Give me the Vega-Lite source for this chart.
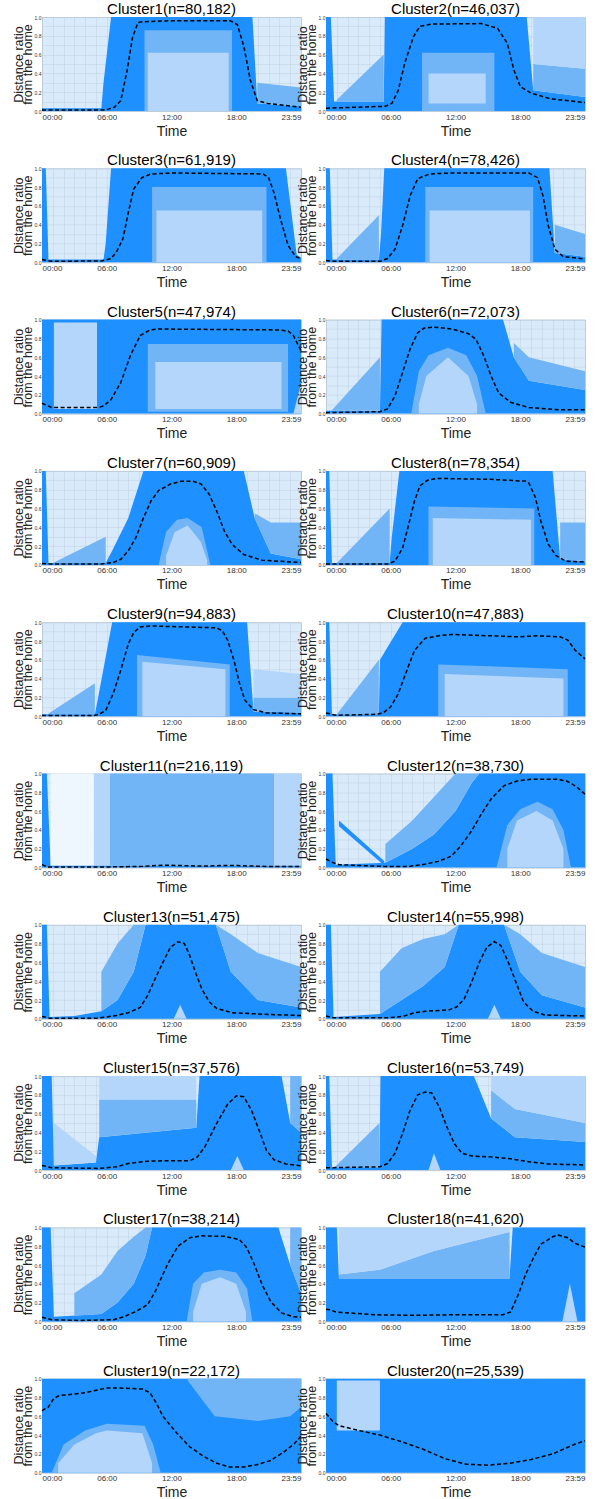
{
"$schema":"https://vega.github.io/schema/vega-lite/v6.json",
"padding":{"left":11,"top":1,"right":4,"bottom":0},
"data":{"values":[
{"p":1,"k":"L","t":0,"lo":0.01},{"p":1,"k":"L","t":5.9,"lo":0.01},{"p":1,"k":"L","t":6.7,"lo":0.04},{"p":1,"k":"L","t":7.3,"lo":0.11},{"p":1,"k":"L","t":7.9,"lo":0.44},{"p":1,"k":"L","t":8.4,"lo":0.79},{"p":1,"k":"L","t":8.9,"lo":0.94},{"p":1,"k":"L","t":9.35,"lo":0.95},{"p":1,"k":"L","t":12,"lo":0.96},{"p":1,"k":"L","t":17.45,"lo":0.96},{"p":1,"k":"L","t":18.1,"lo":0.92},{"p":1,"k":"L","t":18.7,"lo":0.69},{"p":1,"k":"L","t":19.3,"lo":0.33},{"p":1,"k":"L","t":19.95,"lo":0.11},{"p":1,"k":"L","t":20.9,"lo":0.08},{"p":1,"k":"L","t":24,"lo":0.04},
{"p":1,"k":"d","g":1,"t":0,"lo":0,"hi":0.03},{"p":1,"k":"d","g":1,"t":5.5,"lo":0,"hi":0.03},{"p":1,"k":"d","g":1,"t":5.7,"lo":0,"hi":0.3},{"p":1,"k":"d","g":1,"t":6.4,"lo":0,"hi":1},{"p":1,"k":"d","g":1,"t":19.5,"lo":0,"hi":1},{"p":1,"k":"d","g":1,"t":19.95,"lo":0,"hi":0.08},{"p":1,"k":"d","g":1,"t":24,"lo":0,"hi":0.05},
{"p":1,"k":"m","g":2,"t":9.5,"lo":0,"hi":0.86},{"p":1,"k":"m","g":2,"t":17.6,"lo":0,"hi":0.86},
{"p":1,"k":"s","g":3,"t":9.8,"lo":0,"hi":0.62},{"p":1,"k":"s","g":3,"t":17.3,"lo":0,"hi":0.62},
{"p":1,"k":"m","g":4,"t":19.95,"lo":0.08,"hi":0.3},{"p":1,"k":"m","g":4,"t":24,"lo":0.05,"hi":0.25},

{"p":2,"k":"L","t":0,"lo":0.03},{"p":2,"k":"L","t":5.5,"lo":0.05},{"p":2,"k":"L","t":6.1,"lo":0.08},{"p":2,"k":"L","t":6.7,"lo":0.22},{"p":2,"k":"L","t":7.3,"lo":0.51},{"p":2,"k":"L","t":8.1,"lo":0.79},{"p":2,"k":"L","t":8.7,"lo":0.9},{"p":2,"k":"L","t":9.8,"lo":0.925},{"p":2,"k":"L","t":14.4,"lo":0.93},{"p":2,"k":"L","t":15.9,"lo":0.88},{"p":2,"k":"L","t":16.8,"lo":0.72},{"p":2,"k":"L","t":17.4,"lo":0.44},{"p":2,"k":"L","t":18,"lo":0.26},{"p":2,"k":"L","t":19,"lo":0.19},{"p":2,"k":"L","t":20.8,"lo":0.13},{"p":2,"k":"L","t":24,"lo":0.09},
{"p":2,"k":"d","g":1,"t":0,"lo":0,"hi":1},{"p":2,"k":"d","g":1,"t":0.45,"lo":0,"hi":1},{"p":2,"k":"d","g":1,"t":0.75,"lo":0,"hi":0.1},{"p":2,"k":"d","g":1,"t":5.35,"lo":0,"hi":0.1},{"p":2,"k":"d","g":1,"t":5.45,"lo":0,"hi":1},{"p":2,"k":"d","g":1,"t":18.6,"lo":0,"hi":1},{"p":2,"k":"d","g":1,"t":19.2,"lo":0,"hi":0.22},{"p":2,"k":"d","g":1,"t":24,"lo":0,"hi":0.15},
{"p":2,"k":"m","g":2,"t":8.9,"lo":0,"hi":0.62},{"p":2,"k":"m","g":2,"t":15.6,"lo":0,"hi":0.62},
{"p":2,"k":"s","g":3,"t":9.5,"lo":0.08,"hi":0.4},{"p":2,"k":"s","g":3,"t":14.8,"lo":0.08,"hi":0.4},
{"p":2,"k":"m","g":4,"t":19.2,"lo":0.22,"hi":0.5},{"p":2,"k":"m","g":4,"t":24,"lo":0.15,"hi":0.45},
{"p":2,"k":"s","g":5,"t":19.2,"lo":0.5,"hi":1},{"p":2,"k":"s","g":5,"t":24,"lo":0.45,"hi":1},
{"p":2,"k":"m","g":6,"t":1,"lo":0.1,"hi":0.12},{"p":2,"k":"m","g":6,"t":5.35,"lo":0.1,"hi":0.6},

{"p":3,"k":"L","t":0,"lo":0.03},{"p":3,"k":"L","t":0.9,"lo":0.01},{"p":3,"k":"L","t":5.5,"lo":0.015},{"p":3,"k":"L","t":6.4,"lo":0.04},{"p":3,"k":"L","t":6.9,"lo":0.11},{"p":3,"k":"L","t":7.5,"lo":0.25},{"p":3,"k":"L","t":8,"lo":0.53},{"p":3,"k":"L","t":8.5,"lo":0.78},{"p":3,"k":"L","t":9.25,"lo":0.9},{"p":3,"k":"L","t":10.1,"lo":0.94},{"p":3,"k":"L","t":12.3,"lo":0.95},{"p":3,"k":"L","t":20.5,"lo":0.94},{"p":3,"k":"L","t":21,"lo":0.9},{"p":3,"k":"L","t":21.5,"lo":0.74},{"p":3,"k":"L","t":22.1,"lo":0.46},{"p":3,"k":"L","t":22.8,"lo":0.18},{"p":3,"k":"L","t":23.5,"lo":0.06},{"p":3,"k":"L","t":24,"lo":0.04},
{"p":3,"k":"d","g":1,"t":0,"lo":0,"hi":1},{"p":3,"k":"d","g":1,"t":0.35,"lo":0,"hi":1},{"p":3,"k":"d","g":1,"t":0.6,"lo":0,"hi":0.03},{"p":3,"k":"d","g":1,"t":5.7,"lo":0,"hi":0.03},{"p":3,"k":"d","g":1,"t":5.9,"lo":0,"hi":0.2},{"p":3,"k":"d","g":1,"t":6.4,"lo":0,"hi":1},{"p":3,"k":"d","g":1,"t":22.6,"lo":0,"hi":1},{"p":3,"k":"d","g":1,"t":23.6,"lo":0,"hi":0.08},{"p":3,"k":"d","g":1,"t":24,"lo":0,"hi":0.05},
{"p":3,"k":"m","g":2,"t":10.2,"lo":0,"hi":0.8},{"p":3,"k":"m","g":2,"t":20.8,"lo":0,"hi":0.8},
{"p":3,"k":"s","g":3,"t":10.6,"lo":0,"hi":0.55},{"p":3,"k":"s","g":3,"t":20.4,"lo":0,"hi":0.55},

{"p":4,"k":"L","t":0,"lo":0.02},{"p":4,"k":"L","t":0.5,"lo":0.01},{"p":4,"k":"L","t":5,"lo":0.01},{"p":4,"k":"L","t":5.7,"lo":0.04},{"p":4,"k":"L","t":6.4,"lo":0.14},{"p":4,"k":"L","t":7.1,"lo":0.39},{"p":4,"k":"L","t":7.8,"lo":0.71},{"p":4,"k":"L","t":8.5,"lo":0.89},{"p":4,"k":"L","t":9.6,"lo":0.94},{"p":4,"k":"L","t":11.7,"lo":0.95},{"p":4,"k":"L","t":18.8,"lo":0.95},{"p":4,"k":"L","t":19.6,"lo":0.9},{"p":4,"k":"L","t":20.1,"lo":0.71},{"p":4,"k":"L","t":20.6,"lo":0.39},{"p":4,"k":"L","t":21.2,"lo":0.14},{"p":4,"k":"L","t":22,"lo":0.06},{"p":4,"k":"L","t":24,"lo":0.035},
{"p":4,"k":"d","g":1,"t":0,"lo":0,"hi":1},{"p":4,"k":"d","g":1,"t":0.35,"lo":0,"hi":1},{"p":4,"k":"d","g":1,"t":0.6,"lo":0,"hi":0.03},{"p":4,"k":"d","g":1,"t":4.9,"lo":0,"hi":0.03},{"p":4,"k":"d","g":1,"t":5.1,"lo":0,"hi":0.3},{"p":4,"k":"d","g":1,"t":5.4,"lo":0,"hi":1},{"p":4,"k":"d","g":1,"t":20.7,"lo":0,"hi":1},{"p":4,"k":"d","g":1,"t":21.2,"lo":0,"hi":0.1},{"p":4,"k":"d","g":1,"t":24,"lo":0,"hi":0.06},
{"p":4,"k":"m","g":2,"t":9.2,"lo":0,"hi":0.8},{"p":4,"k":"m","g":2,"t":19.2,"lo":0,"hi":0.8},
{"p":4,"k":"s","g":3,"t":9.6,"lo":0,"hi":0.55},{"p":4,"k":"s","g":3,"t":18.9,"lo":0,"hi":0.55},
{"p":4,"k":"m","g":4,"t":21.2,"lo":0.1,"hi":0.4},{"p":4,"k":"m","g":4,"t":24,"lo":0.06,"hi":0.3},
{"p":4,"k":"m","g":5,"t":1,"lo":0.03,"hi":0.04},{"p":4,"k":"m","g":5,"t":4.9,"lo":0.03,"hi":0.5},

{"p":5,"k":"L","t":0,"lo":0.11},{"p":5,"k":"L","t":0.9,"lo":0.065},{"p":5,"k":"L","t":5.2,"lo":0.065},{"p":5,"k":"L","t":5.7,"lo":0.08},{"p":5,"k":"L","t":6.4,"lo":0.15},{"p":5,"k":"L","t":7.3,"lo":0.33},{"p":5,"k":"L","t":8.2,"lo":0.62},{"p":5,"k":"L","t":9.1,"lo":0.83},{"p":5,"k":"L","t":10,"lo":0.89},{"p":5,"k":"L","t":10.8,"lo":0.9},{"p":5,"k":"L","t":21.9,"lo":0.89},{"p":5,"k":"L","t":22.8,"lo":0.88},{"p":5,"k":"L","t":23.3,"lo":0.83},{"p":5,"k":"L","t":24,"lo":0.67},
{"p":5,"k":"d","g":1,"t":0,"lo":0,"hi":1},{"p":5,"k":"d","g":1,"t":24,"lo":0,"hi":1},
{"p":5,"k":"s","g":2,"t":1.1,"lo":0.05,"hi":0.97},{"p":5,"k":"s","g":2,"t":5.1,"lo":0.05,"hi":0.97},
{"p":5,"k":"m","g":3,"t":9.8,"lo":0.02,"hi":0.74},{"p":5,"k":"m","g":3,"t":22.8,"lo":0.02,"hi":0.74},
{"p":5,"k":"s","g":4,"t":10.5,"lo":0.05,"hi":0.55},{"p":5,"k":"s","g":4,"t":22.2,"lo":0.05,"hi":0.55},
{"p":5,"k":"s","g":5,"t":23.3,"lo":0,"hi":0},{"p":5,"k":"s","g":5,"t":24,"lo":0,"hi":0.32},

{"p":6,"k":"L","t":0,"lo":0.01},{"p":6,"k":"L","t":5,"lo":0.02},{"p":6,"k":"L","t":5.7,"lo":0.05},{"p":6,"k":"L","t":6.4,"lo":0.19},{"p":6,"k":"L","t":7.1,"lo":0.44},{"p":6,"k":"L","t":7.8,"lo":0.69},{"p":6,"k":"L","t":8.5,"lo":0.86},{"p":6,"k":"L","t":9.1,"lo":0.91},{"p":6,"k":"L","t":10,"lo":0.92},{"p":6,"k":"L","t":11.7,"lo":0.9},{"p":6,"k":"L","t":13.2,"lo":0.85},{"p":6,"k":"L","t":13.9,"lo":0.79},{"p":6,"k":"L","t":14.6,"lo":0.62},{"p":6,"k":"L","t":15.3,"lo":0.4},{"p":6,"k":"L","t":16,"lo":0.22},{"p":6,"k":"L","t":17.1,"lo":0.12},{"p":6,"k":"L","t":18.8,"lo":0.065},{"p":6,"k":"L","t":21.7,"lo":0.04},{"p":6,"k":"L","t":24,"lo":0.04},
{"p":6,"k":"d","g":1,"t":0,"lo":0,"hi":0.03},{"p":6,"k":"d","g":1,"t":5,"lo":0,"hi":0.03},{"p":6,"k":"d","g":1,"t":5.15,"lo":0,"hi":1},{"p":6,"k":"d","g":1,"t":16.4,"lo":0,"hi":1},{"p":6,"k":"d","g":1,"t":17.4,"lo":0,"hi":0.6},{"p":6,"k":"d","g":1,"t":18.8,"lo":0,"hi":0.35},{"p":6,"k":"d","g":1,"t":24,"lo":0,"hi":0.25},
{"p":6,"k":"m","g":2,"t":17.4,"lo":0.6,"hi":0.75},{"p":6,"k":"m","g":2,"t":18.8,"lo":0.35,"hi":0.6},{"p":6,"k":"m","g":2,"t":24,"lo":0.25,"hi":0.45},
{"p":6,"k":"m","g":3,"t":7.9,"lo":0,"hi":0},{"p":6,"k":"m","g":3,"t":8.6,"lo":0,"hi":0.45},{"p":6,"k":"m","g":3,"t":9.5,"lo":0,"hi":0.62},{"p":6,"k":"m","g":3,"t":11.3,"lo":0,"hi":0.7},{"p":6,"k":"m","g":3,"t":13,"lo":0,"hi":0.62},{"p":6,"k":"m","g":3,"t":14,"lo":0,"hi":0.4},{"p":6,"k":"m","g":3,"t":14.8,"lo":0,"hi":0},
{"p":6,"k":"s","g":4,"t":8.6,"lo":0,"hi":0.1},{"p":6,"k":"s","g":4,"t":9.3,"lo":0,"hi":0.4},{"p":6,"k":"s","g":4,"t":11.3,"lo":0,"hi":0.6},{"p":6,"k":"s","g":4,"t":13.2,"lo":0,"hi":0.4},{"p":6,"k":"s","g":4,"t":14,"lo":0,"hi":0.1},
{"p":6,"k":"m","g":5,"t":0.5,"lo":0.03,"hi":0.03},{"p":6,"k":"m","g":5,"t":5,"lo":0.03,"hi":0.6},

{"p":7,"k":"L","t":0,"lo":0.015},{"p":7,"k":"L","t":0.9,"lo":0.01},{"p":7,"k":"L","t":5.5,"lo":0.01},{"p":7,"k":"L","t":6.6,"lo":0.025},{"p":7,"k":"L","t":7.3,"lo":0.06},{"p":7,"k":"L","t":8,"lo":0.15},{"p":7,"k":"L","t":8.7,"lo":0.29},{"p":7,"k":"L","t":9.4,"lo":0.5},{"p":7,"k":"L","t":10.1,"lo":0.68},{"p":7,"k":"L","t":10.8,"lo":0.79},{"p":7,"k":"L","t":11.9,"lo":0.86},{"p":7,"k":"L","t":12.9,"lo":0.89},{"p":7,"k":"L","t":14,"lo":0.89},{"p":7,"k":"L","t":14.75,"lo":0.86},{"p":7,"k":"L","t":15.5,"lo":0.75},{"p":7,"k":"L","t":16.2,"lo":0.57},{"p":7,"k":"L","t":16.9,"lo":0.36},{"p":7,"k":"L","t":17.6,"lo":0.22},{"p":7,"k":"L","t":18.7,"lo":0.11},{"p":7,"k":"L","t":20.4,"lo":0.05},{"p":7,"k":"L","t":24,"lo":0.025},
{"p":7,"k":"d","g":1,"t":0,"lo":0,"hi":1},{"p":7,"k":"d","g":1,"t":0.35,"lo":0,"hi":1},{"p":7,"k":"d","g":1,"t":0.6,"lo":0,"hi":0.02},{"p":7,"k":"d","g":1,"t":5.9,"lo":0,"hi":0.02},{"p":7,"k":"d","g":1,"t":6.5,"lo":0,"hi":0.15},{"p":7,"k":"d","g":1,"t":8,"lo":0,"hi":0.5},{"p":7,"k":"d","g":1,"t":9.4,"lo":0,"hi":1},{"p":7,"k":"d","g":1,"t":18.7,"lo":0,"hi":1},{"p":7,"k":"d","g":1,"t":19.7,"lo":0,"hi":0.5},{"p":7,"k":"d","g":1,"t":21.2,"lo":0,"hi":0.12},{"p":7,"k":"d","g":1,"t":24,"lo":0,"hi":0.06},
{"p":7,"k":"m","g":2,"t":10.8,"lo":0,"hi":0},{"p":7,"k":"m","g":2,"t":11.5,"lo":0,"hi":0.35},{"p":7,"k":"m","g":2,"t":12.5,"lo":0,"hi":0.48},{"p":7,"k":"m","g":2,"t":13.5,"lo":0,"hi":0.5},{"p":7,"k":"m","g":2,"t":14.8,"lo":0,"hi":0.4},{"p":7,"k":"m","g":2,"t":15.6,"lo":0,"hi":0},
{"p":7,"k":"s","g":3,"t":11.5,"lo":0,"hi":0.1},{"p":7,"k":"s","g":3,"t":12.3,"lo":0,"hi":0.35},{"p":7,"k":"s","g":3,"t":13.5,"lo":0,"hi":0.42},{"p":7,"k":"s","g":3,"t":14.7,"lo":0,"hi":0.25},{"p":7,"k":"s","g":3,"t":15.3,"lo":0,"hi":0.05},
{"p":7,"k":"m","g":4,"t":19.7,"lo":0.5,"hi":0.55},{"p":7,"k":"m","g":4,"t":21.2,"lo":0.12,"hi":0.45},{"p":7,"k":"m","g":4,"t":24,"lo":0.06,"hi":0.45},
{"p":7,"k":"m","g":5,"t":1,"lo":0.02,"hi":0.02},{"p":7,"k":"m","g":5,"t":5.9,"lo":0.02,"hi":0.3},

{"p":8,"k":"L","t":0,"lo":0.01},{"p":8,"k":"L","t":5.7,"lo":0.01},{"p":8,"k":"L","t":6.4,"lo":0.04},{"p":8,"k":"L","t":7.1,"lo":0.18},{"p":8,"k":"L","t":7.6,"lo":0.4},{"p":8,"k":"L","t":8.2,"lo":0.68},{"p":8,"k":"L","t":8.7,"lo":0.84},{"p":8,"k":"L","t":9.4,"lo":0.9},{"p":8,"k":"L","t":10.3,"lo":0.92},{"p":8,"k":"L","t":15.3,"lo":0.91},{"p":8,"k":"L","t":18.5,"lo":0.89},{"p":8,"k":"L","t":18.8,"lo":0.87},{"p":8,"k":"L","t":19.4,"lo":0.72},{"p":8,"k":"L","t":19.9,"lo":0.47},{"p":8,"k":"L","t":20.6,"lo":0.22},{"p":8,"k":"L","t":21.3,"lo":0.1},{"p":8,"k":"L","t":22.2,"lo":0.04},{"p":8,"k":"L","t":24,"lo":0.03},
{"p":8,"k":"d","g":1,"t":0,"lo":0,"hi":1},{"p":8,"k":"d","g":1,"t":0.3,"lo":0,"hi":1},{"p":8,"k":"d","g":1,"t":0.55,"lo":0,"hi":0.02},{"p":8,"k":"d","g":1,"t":5.9,"lo":0,"hi":0.02},{"p":8,"k":"d","g":1,"t":6.1,"lo":0,"hi":0.3},{"p":8,"k":"d","g":1,"t":6.8,"lo":0,"hi":1},{"p":8,"k":"d","g":1,"t":21,"lo":0,"hi":1},{"p":8,"k":"d","g":1,"t":21.7,"lo":0,"hi":0.06},{"p":8,"k":"d","g":1,"t":24,"lo":0,"hi":0.04},
{"p":8,"k":"m","g":2,"t":9.5,"lo":0,"hi":0.62},{"p":8,"k":"m","g":2,"t":19.3,"lo":0,"hi":0.6},
{"p":8,"k":"s","g":3,"t":9.9,"lo":0,"hi":0.5},{"p":8,"k":"s","g":3,"t":19,"lo":0,"hi":0.48},
{"p":8,"k":"m","g":4,"t":21.7,"lo":0.06,"hi":0.45},{"p":8,"k":"m","g":4,"t":24,"lo":0.04,"hi":0.45},
{"p":8,"k":"m","g":5,"t":1,"lo":0.02,"hi":0.02},{"p":8,"k":"m","g":5,"t":5.9,"lo":0.02,"hi":0.6},

{"p":9,"k":"L","t":0,"lo":0.007},{"p":9,"k":"L","t":4.8,"lo":0.007},{"p":9,"k":"L","t":5.3,"lo":0.02},{"p":9,"k":"L","t":5.9,"lo":0.06},{"p":9,"k":"L","t":6.6,"lo":0.24},{"p":9,"k":"L","t":7.3,"lo":0.49},{"p":9,"k":"L","t":8,"lo":0.77},{"p":9,"k":"L","t":8.5,"lo":0.89},{"p":9,"k":"L","t":9.1,"lo":0.95},{"p":9,"k":"L","t":10.1,"lo":0.96},{"p":9,"k":"L","t":16.2,"lo":0.94},{"p":9,"k":"L","t":16.7,"lo":0.91},{"p":9,"k":"L","t":17.2,"lo":0.81},{"p":9,"k":"L","t":17.8,"lo":0.59},{"p":9,"k":"L","t":18.3,"lo":0.35},{"p":9,"k":"L","t":18.8,"lo":0.17},{"p":9,"k":"L","t":19.6,"lo":0.07},{"p":9,"k":"L","t":20.8,"lo":0.035},{"p":9,"k":"L","t":24,"lo":0.025},
{"p":9,"k":"d","g":1,"t":0,"lo":0,"hi":0.02},{"p":9,"k":"d","g":1,"t":4.9,"lo":0,"hi":0.02},{"p":9,"k":"d","g":1,"t":5.2,"lo":0,"hi":0.2},{"p":9,"k":"d","g":1,"t":6.5,"lo":0,"hi":1},{"p":9,"k":"d","g":1,"t":19,"lo":0,"hi":1},{"p":9,"k":"d","g":1,"t":19.6,"lo":0,"hi":0.05},{"p":9,"k":"d","g":1,"t":24,"lo":0,"hi":0.04},
{"p":9,"k":"m","g":2,"t":8.8,"lo":0,"hi":0.65},{"p":9,"k":"m","g":2,"t":17.4,"lo":0,"hi":0.55},
{"p":9,"k":"s","g":3,"t":9.3,"lo":0,"hi":0.58},{"p":9,"k":"s","g":3,"t":17,"lo":0,"hi":0.5},
{"p":9,"k":"m","g":4,"t":19.6,"lo":0.05,"hi":0.2},{"p":9,"k":"m","g":4,"t":24,"lo":0.04,"hi":0.2},
{"p":9,"k":"s","g":5,"t":19.6,"lo":0.2,"hi":0.5},{"p":9,"k":"s","g":5,"t":24,"lo":0.2,"hi":0.45},
{"p":9,"k":"m","g":6,"t":0.5,"lo":0.02,"hi":0.02},{"p":9,"k":"m","g":6,"t":4.9,"lo":0.02,"hi":0.35},

{"p":10,"k":"L","t":0,"lo":0.035},{"p":10,"k":"L","t":0.9,"lo":0.01},{"p":10,"k":"L","t":4.6,"lo":0.02},{"p":10,"k":"L","t":5.3,"lo":0.035},{"p":10,"k":"L","t":6,"lo":0.1},{"p":10,"k":"L","t":6.7,"lo":0.24},{"p":10,"k":"L","t":7.5,"lo":0.49},{"p":10,"k":"L","t":8.2,"lo":0.7},{"p":10,"k":"L","t":9.2,"lo":0.83},{"p":10,"k":"L","t":10.7,"lo":0.86},{"p":10,"k":"L","t":11.7,"lo":0.87},{"p":10,"k":"L","t":15.3,"lo":0.855},{"p":10,"k":"L","t":17.8,"lo":0.845},{"p":10,"k":"L","t":19.6,"lo":0.855},{"p":10,"k":"L","t":21.7,"lo":0.845},{"p":10,"k":"L","t":22.4,"lo":0.81},{"p":10,"k":"L","t":23.1,"lo":0.7},{"p":10,"k":"L","t":24,"lo":0.61},
{"p":10,"k":"d","g":1,"t":0,"lo":0,"hi":1},{"p":10,"k":"d","g":1,"t":0.3,"lo":0,"hi":1},{"p":10,"k":"d","g":1,"t":0.55,"lo":0,"hi":0.02},{"p":10,"k":"d","g":1,"t":4.9,"lo":0,"hi":0.02},{"p":10,"k":"d","g":1,"t":5,"lo":0,"hi":0.6},{"p":10,"k":"d","g":1,"t":7.1,"lo":0,"hi":1},{"p":10,"k":"d","g":1,"t":24,"lo":0,"hi":1},
{"p":10,"k":"m","g":2,"t":10.4,"lo":0,"hi":0.55},{"p":10,"k":"m","g":2,"t":22.4,"lo":0,"hi":0.5},
{"p":10,"k":"s","g":3,"t":11,"lo":0,"hi":0.45},{"p":10,"k":"s","g":3,"t":22,"lo":0,"hi":0.4},
{"p":10,"k":"m","g":4,"t":1,"lo":0.02,"hi":0.02},{"p":10,"k":"m","g":4,"t":4.9,"lo":0.02,"hi":0.6},

{"p":11,"k":"L","t":0,"lo":0.03},{"p":11,"k":"L","t":0.5,"lo":0.005},{"p":11,"k":"L","t":5.6,"lo":0.005},{"p":11,"k":"L","t":9.35,"lo":0.012},{"p":11,"k":"L","t":11.2,"lo":0.025},{"p":11,"k":"L","t":13,"lo":0.02},{"p":11,"k":"L","t":15,"lo":0.015},{"p":11,"k":"L","t":17,"lo":0.022},{"p":11,"k":"L","t":18.1,"lo":0.02},{"p":11,"k":"L","t":21.2,"lo":0.01},{"p":11,"k":"L","t":24,"lo":0.01},
{"p":11,"k":"d","g":1,"t":0,"lo":0,"hi":1},{"p":11,"k":"d","g":1,"t":0.45,"lo":0,"hi":1},{"p":11,"k":"d","g":1,"t":0.8,"lo":0,"hi":0.02},{"p":11,"k":"d","g":1,"t":24,"lo":0,"hi":0.02},
{"p":11,"k":"m","g":2,"t":6.3,"lo":0.02,"hi":1},{"p":11,"k":"m","g":2,"t":21.5,"lo":0.02,"hi":1},
{"p":11,"k":"s","g":3,"t":4.8,"lo":0.02,"hi":1},{"p":11,"k":"s","g":3,"t":6.3,"lo":0.02,"hi":1},
{"p":11,"k":"s","g":4,"t":21.5,"lo":0.02,"hi":1},{"p":11,"k":"s","g":4,"t":24,"lo":0.02,"hi":1},
{"p":11,"k":"w","g":5,"t":0.8,"lo":0.02,"hi":1},{"p":11,"k":"w","g":5,"t":4.8,"lo":0.02,"hi":1},

{"p":12,"k":"L","t":0,"lo":0.09},{"p":12,"k":"L","t":0.6,"lo":0.055},{"p":12,"k":"L","t":1.2,"lo":0.03},{"p":12,"k":"L","t":5.5,"lo":0.01},{"p":12,"k":"L","t":7.6,"lo":0.01},{"p":12,"k":"L","t":8.9,"lo":0.03},{"p":12,"k":"L","t":10.4,"lo":0.065},{"p":12,"k":"L","t":11.6,"lo":0.12},{"p":12,"k":"L","t":12.5,"lo":0.23},{"p":12,"k":"L","t":13.5,"lo":0.39},{"p":12,"k":"L","t":14.4,"lo":0.57},{"p":12,"k":"L","t":15.3,"lo":0.73},{"p":12,"k":"L","t":16.5,"lo":0.87},{"p":12,"k":"L","t":17.7,"lo":0.92},{"p":12,"k":"L","t":19,"lo":0.94},{"p":12,"k":"L","t":21.4,"lo":0.94},{"p":12,"k":"L","t":22.3,"lo":0.92},{"p":12,"k":"L","t":23.2,"lo":0.86},{"p":12,"k":"L","t":24,"lo":0.78},
{"p":12,"k":"d","g":1,"t":0,"lo":0,"hi":1},{"p":12,"k":"d","g":1,"t":0.6,"lo":0,"hi":1},{"p":12,"k":"d","g":1,"t":0.9,"lo":0,"hi":0.03},{"p":12,"k":"d","g":1,"t":5.5,"lo":0,"hi":0.05},{"p":12,"k":"d","g":1,"t":8,"lo":0,"hi":0.2},{"p":12,"k":"d","g":1,"t":10,"lo":0,"hi":0.35},{"p":12,"k":"d","g":1,"t":12,"lo":0,"hi":0.6},{"p":12,"k":"d","g":1,"t":13.5,"lo":0,"hi":0.9},{"p":12,"k":"d","g":1,"t":14.2,"lo":0,"hi":1},{"p":12,"k":"d","g":1,"t":24,"lo":0,"hi":1},
{"p":12,"k":"d","g":2,"t":1.2,"lo":0.44,"hi":0.5},{"p":12,"k":"d","g":2,"t":5.4,"lo":0.02,"hi":0.07},
{"p":12,"k":"m","g":3,"t":5.5,"lo":0.05,"hi":0.25},{"p":12,"k":"m","g":3,"t":8,"lo":0.2,"hi":0.5},{"p":12,"k":"m","g":3,"t":10,"lo":0.35,"hi":0.75},{"p":12,"k":"m","g":3,"t":12,"lo":0.6,"hi":1},{"p":12,"k":"m","g":3,"t":13.5,"lo":0.9,"hi":1},{"p":12,"k":"m","g":3,"t":14.2,"lo":1,"hi":1},
{"p":12,"k":"m","g":4,"t":15.8,"lo":0,"hi":0},{"p":12,"k":"m","g":4,"t":16.8,"lo":0,"hi":0.45},{"p":12,"k":"m","g":4,"t":18,"lo":0,"hi":0.62},{"p":12,"k":"m","g":4,"t":19.6,"lo":0,"hi":0.7},{"p":12,"k":"m","g":4,"t":21,"lo":0,"hi":0.62},{"p":12,"k":"m","g":4,"t":22,"lo":0,"hi":0.4},{"p":12,"k":"m","g":4,"t":22.7,"lo":0,"hi":0},
{"p":12,"k":"s","g":5,"t":16.8,"lo":0,"hi":0.2},{"p":12,"k":"s","g":5,"t":17.7,"lo":0,"hi":0.5},{"p":12,"k":"s","g":5,"t":19.5,"lo":0,"hi":0.6},{"p":12,"k":"s","g":5,"t":21,"lo":0,"hi":0.5},{"p":12,"k":"s","g":5,"t":22,"lo":0,"hi":0.2},

{"p":13,"k":"L","t":0,"lo":0.025},{"p":13,"k":"L","t":0.7,"lo":0.007},{"p":13,"k":"L","t":5.2,"lo":0.007},{"p":13,"k":"L","t":6.9,"lo":0.035},{"p":13,"k":"L","t":8,"lo":0.065},{"p":13,"k":"L","t":9.1,"lo":0.12},{"p":13,"k":"L","t":9.8,"lo":0.25},{"p":13,"k":"L","t":10.5,"lo":0.43},{"p":13,"k":"L","t":11.2,"lo":0.6},{"p":13,"k":"L","t":11.9,"lo":0.76},{"p":13,"k":"L","t":12.6,"lo":0.82},{"p":13,"k":"L","t":13.2,"lo":0.8},{"p":13,"k":"L","t":13.7,"lo":0.67},{"p":13,"k":"L","t":14.2,"lo":0.5},{"p":13,"k":"L","t":14.8,"lo":0.32},{"p":13,"k":"L","t":15.5,"lo":0.18},{"p":13,"k":"L","t":16.2,"lo":0.11},{"p":13,"k":"L","t":17.6,"lo":0.065},{"p":13,"k":"L","t":21.2,"lo":0.045},{"p":13,"k":"L","t":24,"lo":0.035},
{"p":13,"k":"d","g":1,"t":0,"lo":0,"hi":1},{"p":13,"k":"d","g":1,"t":0.45,"lo":0,"hi":1},{"p":13,"k":"d","g":1,"t":0.7,"lo":0,"hi":0.02},{"p":13,"k":"d","g":1,"t":3,"lo":0,"hi":0.03},{"p":13,"k":"d","g":1,"t":5.5,"lo":0,"hi":0.08},{"p":13,"k":"d","g":1,"t":7,"lo":0,"hi":0.2},{"p":13,"k":"d","g":1,"t":8.5,"lo":0,"hi":0.5},{"p":13,"k":"d","g":1,"t":9.6,"lo":0,"hi":1},{"p":13,"k":"d","g":1,"t":16.1,"lo":0,"hi":1},{"p":13,"k":"d","g":1,"t":17.5,"lo":0,"hi":0.5},{"p":13,"k":"d","g":1,"t":20,"lo":0,"hi":0.2},{"p":13,"k":"d","g":1,"t":24,"lo":0,"hi":0.12},
{"p":13,"k":"m","g":2,"t":5.5,"lo":0.08,"hi":0.5},{"p":13,"k":"m","g":2,"t":7,"lo":0.2,"hi":0.8},{"p":13,"k":"m","g":2,"t":8.5,"lo":0.5,"hi":1},{"p":13,"k":"m","g":2,"t":9.6,"lo":1,"hi":1},
{"p":13,"k":"m","g":3,"t":16.1,"lo":1,"hi":1},{"p":13,"k":"m","g":3,"t":17.5,"lo":0.5,"hi":0.9},{"p":13,"k":"m","g":3,"t":20,"lo":0.2,"hi":0.7},{"p":13,"k":"m","g":3,"t":24,"lo":0.12,"hi":0.55},
{"p":13,"k":"s","g":4,"t":12.2,"lo":0,"hi":0},{"p":13,"k":"s","g":4,"t":12.8,"lo":0,"hi":0.15},{"p":13,"k":"s","g":4,"t":13.4,"lo":0,"hi":0},

{"p":14,"k":"L","t":0,"lo":0.03},{"p":14,"k":"L","t":0.7,"lo":0.01},{"p":14,"k":"L","t":5.7,"lo":0.01},{"p":14,"k":"L","t":7.1,"lo":0.025},{"p":14,"k":"L","t":8.2,"lo":0.065},{"p":14,"k":"L","t":9.2,"lo":0.08},{"p":14,"k":"L","t":11.4,"lo":0.095},{"p":14,"k":"L","t":12.1,"lo":0.125},{"p":14,"k":"L","t":12.8,"lo":0.21},{"p":14,"k":"L","t":13.5,"lo":0.39},{"p":14,"k":"L","t":14.2,"lo":0.6},{"p":14,"k":"L","t":14.9,"lo":0.76},{"p":14,"k":"L","t":15.6,"lo":0.82},{"p":14,"k":"L","t":16.2,"lo":0.78},{"p":14,"k":"L","t":16.9,"lo":0.6},{"p":14,"k":"L","t":17.6,"lo":0.39},{"p":14,"k":"L","t":18.3,"lo":0.18},{"p":14,"k":"L","t":19.2,"lo":0.08},{"p":14,"k":"L","t":20.3,"lo":0.04},{"p":14,"k":"L","t":24,"lo":0.03},
{"p":14,"k":"d","g":1,"t":0,"lo":0,"hi":1},{"p":14,"k":"d","g":1,"t":0.45,"lo":0,"hi":1},{"p":14,"k":"d","g":1,"t":0.7,"lo":0,"hi":0.02},{"p":14,"k":"d","g":1,"t":5,"lo":0,"hi":0.05},{"p":14,"k":"d","g":1,"t":7,"lo":0,"hi":0.2},{"p":14,"k":"d","g":1,"t":9,"lo":0,"hi":0.35},{"p":14,"k":"d","g":1,"t":11,"lo":0,"hi":0.55},{"p":14,"k":"d","g":1,"t":12.3,"lo":0,"hi":1},{"p":14,"k":"d","g":1,"t":16.5,"lo":0,"hi":1},{"p":14,"k":"d","g":1,"t":18,"lo":0,"hi":0.5},{"p":14,"k":"d","g":1,"t":20,"lo":0,"hi":0.25},{"p":14,"k":"d","g":1,"t":24,"lo":0,"hi":0.12},
{"p":14,"k":"m","g":2,"t":5,"lo":0.05,"hi":0.5},{"p":14,"k":"m","g":2,"t":7,"lo":0.2,"hi":0.75},{"p":14,"k":"m","g":2,"t":9,"lo":0.35,"hi":0.85},{"p":14,"k":"m","g":2,"t":11,"lo":0.55,"hi":0.9},{"p":14,"k":"m","g":2,"t":12.3,"lo":1,"hi":1},
{"p":14,"k":"m","g":3,"t":16.5,"lo":1,"hi":1},{"p":14,"k":"m","g":3,"t":18,"lo":0.5,"hi":0.9},{"p":14,"k":"m","g":3,"t":20,"lo":0.25,"hi":0.7},{"p":14,"k":"m","g":3,"t":24,"lo":0.12,"hi":0.55},
{"p":14,"k":"s","g":4,"t":15,"lo":0,"hi":0},{"p":14,"k":"s","g":4,"t":15.6,"lo":0,"hi":0.15},{"p":14,"k":"s","g":4,"t":16.2,"lo":0,"hi":0},

{"p":15,"k":"L","t":0,"lo":0.05},{"p":15,"k":"L","t":0.9,"lo":0.025},{"p":15,"k":"L","t":5.2,"lo":0.018},{"p":15,"k":"L","t":6.9,"lo":0.035},{"p":15,"k":"L","t":8,"lo":0.07},{"p":15,"k":"L","t":9.8,"lo":0.095},{"p":15,"k":"L","t":11.6,"lo":0.1},{"p":15,"k":"L","t":13.7,"lo":0.1},{"p":15,"k":"L","t":14.4,"lo":0.14},{"p":15,"k":"L","t":15.1,"lo":0.25},{"p":15,"k":"L","t":16.2,"lo":0.5},{"p":15,"k":"L","t":17.2,"lo":0.7},{"p":15,"k":"L","t":18,"lo":0.79},{"p":15,"k":"L","t":18.7,"lo":0.78},{"p":15,"k":"L","t":19.4,"lo":0.64},{"p":15,"k":"L","t":20.1,"lo":0.43},{"p":15,"k":"L","t":20.8,"lo":0.21},{"p":15,"k":"L","t":21.5,"lo":0.11},{"p":15,"k":"L","t":22.6,"lo":0.065},{"p":15,"k":"L","t":24,"lo":0.045},
{"p":15,"k":"d","g":1,"t":0,"lo":0,"hi":1},{"p":15,"k":"d","g":1,"t":0.9,"lo":0,"hi":1},{"p":15,"k":"d","g":1,"t":1.1,"lo":0,"hi":0.05},{"p":15,"k":"d","g":1,"t":5,"lo":0,"hi":0.08},{"p":15,"k":"d","g":1,"t":5.3,"lo":0,"hi":0.35},{"p":15,"k":"d","g":1,"t":14.3,"lo":0,"hi":0.45},{"p":15,"k":"d","g":1,"t":14.6,"lo":0,"hi":1},{"p":15,"k":"d","g":1,"t":22.2,"lo":0,"hi":1},{"p":15,"k":"d","g":1,"t":23,"lo":0,"hi":0.5},{"p":15,"k":"d","g":1,"t":24,"lo":0,"hi":0.4},
{"p":15,"k":"m","g":2,"t":5.3,"lo":0.35,"hi":0.75},{"p":15,"k":"m","g":2,"t":14.3,"lo":0.45,"hi":0.75},
{"p":15,"k":"m","g":3,"t":23,"lo":0.5,"hi":1},{"p":15,"k":"m","g":3,"t":24,"lo":0.4,"hi":1},
{"p":15,"k":"s","g":4,"t":5.3,"lo":0.75,"hi":1},{"p":15,"k":"s","g":4,"t":14.3,"lo":0.75,"hi":1},
{"p":15,"k":"s","g":5,"t":1.1,"lo":0.05,"hi":0.5},{"p":15,"k":"s","g":5,"t":5,"lo":0.08,"hi":0.15},
{"p":15,"k":"s","g":6,"t":17.5,"lo":0,"hi":0},{"p":15,"k":"s","g":6,"t":18.1,"lo":0,"hi":0.15},{"p":15,"k":"s","g":6,"t":18.7,"lo":0,"hi":0},

{"p":16,"k":"L","t":0,"lo":0.025},{"p":16,"k":"L","t":5,"lo":0.035},{"p":16,"k":"L","t":5.7,"lo":0.07},{"p":16,"k":"L","t":6.4,"lo":0.18},{"p":16,"k":"L","t":7.1,"lo":0.39},{"p":16,"k":"L","t":7.8,"lo":0.64},{"p":16,"k":"L","t":8.5,"lo":0.8},{"p":16,"k":"L","t":9.2,"lo":0.83},{"p":16,"k":"L","t":9.8,"lo":0.82},{"p":16,"k":"L","t":10.5,"lo":0.67},{"p":16,"k":"L","t":11.2,"lo":0.46},{"p":16,"k":"L","t":11.9,"lo":0.28},{"p":16,"k":"L","t":12.6,"lo":0.18},{"p":16,"k":"L","t":13.5,"lo":0.15},{"p":16,"k":"L","t":15.3,"lo":0.14},{"p":16,"k":"L","t":17.1,"lo":0.12},{"p":16,"k":"L","t":18.8,"lo":0.09},{"p":16,"k":"L","t":20.6,"lo":0.065},{"p":16,"k":"L","t":24,"lo":0.055},
{"p":16,"k":"d","g":1,"t":0,"lo":0,"hi":1},{"p":16,"k":"d","g":1,"t":0.3,"lo":0,"hi":1},{"p":16,"k":"d","g":1,"t":0.55,"lo":0,"hi":0.03},{"p":16,"k":"d","g":1,"t":4.95,"lo":0,"hi":0.03},{"p":16,"k":"d","g":1,"t":5.05,"lo":0,"hi":1},{"p":16,"k":"d","g":1,"t":13.7,"lo":0,"hi":1},{"p":16,"k":"d","g":1,"t":15.3,"lo":0,"hi":0.55},{"p":16,"k":"d","g":1,"t":17.5,"lo":0,"hi":0.35},{"p":16,"k":"d","g":1,"t":24,"lo":0,"hi":0.3},
{"p":16,"k":"m","g":2,"t":15.3,"lo":0.55,"hi":0.85},{"p":16,"k":"m","g":2,"t":17.5,"lo":0.35,"hi":0.65},{"p":16,"k":"m","g":2,"t":24,"lo":0.3,"hi":0.5},
{"p":16,"k":"s","g":3,"t":15.3,"lo":0.85,"hi":1},{"p":16,"k":"s","g":3,"t":17.5,"lo":0.65,"hi":1},{"p":16,"k":"s","g":3,"t":24,"lo":0.5,"hi":1},
{"p":16,"k":"m","g":4,"t":0.8,"lo":0.03,"hi":0.03},{"p":16,"k":"m","g":4,"t":4.95,"lo":0.03,"hi":0.5},
{"p":16,"k":"s","g":5,"t":9.5,"lo":0,"hi":0},{"p":16,"k":"s","g":5,"t":10,"lo":0,"hi":0.18},{"p":16,"k":"s","g":5,"t":10.6,"lo":0,"hi":0},

{"p":17,"k":"L","t":0,"lo":0.045},{"p":17,"k":"L","t":0.9,"lo":0.018},{"p":17,"k":"L","t":3.4,"lo":0.01},{"p":17,"k":"L","t":6.6,"lo":0.018},{"p":17,"k":"L","t":7.6,"lo":0.05},{"p":17,"k":"L","t":8.7,"lo":0.105},{"p":17,"k":"L","t":9.8,"lo":0.18},{"p":17,"k":"L","t":10.5,"lo":0.32},{"p":17,"k":"L","t":11.6,"lo":0.6},{"p":17,"k":"L","t":12.6,"lo":0.8},{"p":17,"k":"L","t":13.7,"lo":0.89},{"p":17,"k":"L","t":14.75,"lo":0.91},{"p":17,"k":"L","t":16.9,"lo":0.905},{"p":17,"k":"L","t":18.3,"lo":0.87},{"p":17,"k":"L","t":19,"lo":0.78},{"p":17,"k":"L","t":19.7,"lo":0.6},{"p":17,"k":"L","t":20.4,"lo":0.39},{"p":17,"k":"L","t":21.2,"lo":0.21},{"p":17,"k":"L","t":22.2,"lo":0.09},{"p":17,"k":"L","t":23.3,"lo":0.05},{"p":17,"k":"L","t":24,"lo":0.045},
{"p":17,"k":"d","g":1,"t":0,"lo":0,"hi":1},{"p":17,"k":"d","g":1,"t":0.8,"lo":0,"hi":1},{"p":17,"k":"d","g":1,"t":1.1,"lo":0,"hi":0.05},{"p":17,"k":"d","g":1,"t":5.5,"lo":0,"hi":0.08},{"p":17,"k":"d","g":1,"t":7,"lo":0,"hi":0.2},{"p":17,"k":"d","g":1,"t":8.5,"lo":0,"hi":0.4},{"p":17,"k":"d","g":1,"t":9.6,"lo":0,"hi":0.7},{"p":17,"k":"d","g":1,"t":10.2,"lo":0,"hi":1},{"p":17,"k":"d","g":1,"t":21.9,"lo":0,"hi":1},{"p":17,"k":"d","g":1,"t":23,"lo":0,"hi":0.6},{"p":17,"k":"d","g":1,"t":24,"lo":0,"hi":0.3},
{"p":17,"k":"m","g":2,"t":3,"lo":0.06,"hi":0.3},{"p":17,"k":"m","g":2,"t":5.5,"lo":0.08,"hi":0.5},{"p":17,"k":"m","g":2,"t":7,"lo":0.2,"hi":0.75},{"p":17,"k":"m","g":2,"t":8.5,"lo":0.4,"hi":0.9},{"p":17,"k":"m","g":2,"t":9.6,"lo":0.7,"hi":1},{"p":17,"k":"m","g":2,"t":10.2,"lo":1,"hi":1},
{"p":17,"k":"m","g":3,"t":23,"lo":0.6,"hi":1},{"p":17,"k":"m","g":3,"t":24,"lo":0.3,"hi":1},
{"p":17,"k":"m","g":4,"t":13.4,"lo":0,"hi":0},{"p":17,"k":"m","g":4,"t":14,"lo":0,"hi":0.4},{"p":17,"k":"m","g":4,"t":15,"lo":0,"hi":0.52},{"p":17,"k":"m","g":4,"t":16.5,"lo":0,"hi":0.55},{"p":17,"k":"m","g":4,"t":18,"lo":0,"hi":0.52},{"p":17,"k":"m","g":4,"t":19,"lo":0,"hi":0.35},{"p":17,"k":"m","g":4,"t":19.5,"lo":0,"hi":0},
{"p":17,"k":"s","g":5,"t":14,"lo":0,"hi":0.1},{"p":17,"k":"s","g":5,"t":14.8,"lo":0,"hi":0.4},{"p":17,"k":"s","g":5,"t":16.5,"lo":0,"hi":0.47},{"p":17,"k":"s","g":5,"t":18,"lo":0,"hi":0.4},{"p":17,"k":"s","g":5,"t":18.9,"lo":0,"hi":0.1},

{"p":18,"k":"L","t":0,"lo":0.13},{"p":18,"k":"L","t":0.35,"lo":0.125},{"p":18,"k":"L","t":0.9,"lo":0.1},{"p":18,"k":"L","t":4.6,"lo":0.07},{"p":18,"k":"L","t":8.2,"lo":0.065},{"p":18,"k":"L","t":11.7,"lo":0.07},{"p":18,"k":"L","t":16.4,"lo":0.07},{"p":18,"k":"L","t":17.1,"lo":0.1},{"p":18,"k":"L","t":17.8,"lo":0.28},{"p":18,"k":"L","t":18.5,"lo":0.5},{"p":18,"k":"L","t":19.2,"lo":0.67},{"p":18,"k":"L","t":19.9,"lo":0.82},{"p":18,"k":"L","t":21,"lo":0.9},{"p":18,"k":"L","t":21.5,"lo":0.92},{"p":18,"k":"L","t":22.4,"lo":0.89},{"p":18,"k":"L","t":23.1,"lo":0.83},{"p":18,"k":"L","t":24,"lo":0.79},
{"p":18,"k":"d","g":1,"t":0,"lo":0,"hi":1},{"p":18,"k":"d","g":1,"t":1,"lo":0,"hi":1},{"p":18,"k":"d","g":1,"t":1.2,"lo":0,"hi":0.45},{"p":18,"k":"d","g":1,"t":17,"lo":0,"hi":0.45},{"p":18,"k":"d","g":1,"t":17.3,"lo":0,"hi":1},{"p":18,"k":"d","g":1,"t":24,"lo":0,"hi":1},
{"p":18,"k":"m","g":2,"t":1.2,"lo":0.45,"hi":0.5},{"p":18,"k":"m","g":2,"t":5,"lo":0.45,"hi":0.55},{"p":18,"k":"m","g":2,"t":10,"lo":0.45,"hi":0.75},{"p":18,"k":"m","g":2,"t":17,"lo":0.45,"hi":0.95},
{"p":18,"k":"s","g":3,"t":1.2,"lo":0.5,"hi":1},{"p":18,"k":"s","g":3,"t":5,"lo":0.55,"hi":1},{"p":18,"k":"s","g":3,"t":10,"lo":0.75,"hi":1},{"p":18,"k":"s","g":3,"t":17,"lo":0.95,"hi":1},
{"p":18,"k":"s","g":4,"t":21.9,"lo":0,"hi":0},{"p":18,"k":"s","g":4,"t":22.6,"lo":0,"hi":0.4},{"p":18,"k":"s","g":4,"t":23.3,"lo":0,"hi":0},

{"p":19,"k":"L","t":0,"lo":0.66},{"p":19,"k":"L","t":0.6,"lo":0.7},{"p":19,"k":"L","t":1.1,"lo":0.79},{"p":19,"k":"L","t":1.6,"lo":0.82},{"p":19,"k":"L","t":4,"lo":0.85},{"p":19,"k":"L","t":5.9,"lo":0.9},{"p":19,"k":"L","t":7.2,"lo":0.9},{"p":19,"k":"L","t":9.35,"lo":0.89},{"p":19,"k":"L","t":10,"lo":0.85},{"p":19,"k":"L","t":10.6,"lo":0.74},{"p":19,"k":"L","t":11.2,"lo":0.6},{"p":19,"k":"L","t":12.5,"lo":0.42},{"p":19,"k":"L","t":13.7,"lo":0.275},{"p":19,"k":"L","t":14.95,"lo":0.175},{"p":19,"k":"L","t":16.2,"lo":0.1},{"p":19,"k":"L","t":17.4,"lo":0.06},{"p":19,"k":"L","t":18.7,"lo":0.06},{"p":19,"k":"L","t":19.9,"lo":0.085},{"p":19,"k":"L","t":21.2,"lo":0.13},{"p":19,"k":"L","t":22.4,"lo":0.22},{"p":19,"k":"L","t":23.4,"lo":0.31},{"p":19,"k":"L","t":24,"lo":0.39},
{"p":19,"k":"d","g":1,"t":0,"lo":0,"hi":1},{"p":19,"k":"d","g":1,"t":24,"lo":0,"hi":1},
{"p":19,"k":"m","g":2,"t":0.9,"lo":0,"hi":0},{"p":19,"k":"m","g":2,"t":2,"lo":0,"hi":0.3},{"p":19,"k":"m","g":2,"t":4,"lo":0,"hi":0.45},{"p":19,"k":"m","g":2,"t":6,"lo":0,"hi":0.52},{"p":19,"k":"m","g":2,"t":9.5,"lo":0,"hi":0.5},{"p":19,"k":"m","g":2,"t":10.3,"lo":0,"hi":0.3},{"p":19,"k":"m","g":2,"t":11,"lo":0,"hi":0},
{"p":19,"k":"s","g":3,"t":1.5,"lo":0,"hi":0.1},{"p":19,"k":"s","g":3,"t":3,"lo":0,"hi":0.3},{"p":19,"k":"s","g":3,"t":5,"lo":0,"hi":0.42},{"p":19,"k":"s","g":3,"t":6,"lo":0,"hi":0.45},{"p":19,"k":"s","g":3,"t":9.3,"lo":0,"hi":0.42},{"p":19,"k":"s","g":3,"t":10.2,"lo":0,"hi":0.1},
{"p":19,"k":"m","g":4,"t":13.5,"lo":0.98,"hi":1},{"p":19,"k":"m","g":4,"t":16,"lo":0.6,"hi":1},{"p":19,"k":"m","g":4,"t":20,"lo":0.55,"hi":1},{"p":19,"k":"m","g":4,"t":23,"lo":0.6,"hi":1},{"p":19,"k":"m","g":4,"t":24,"lo":0.7,"hi":1},

{"p":20,"k":"L","t":0,"lo":0.63},{"p":20,"k":"L","t":0.6,"lo":0.55},{"p":20,"k":"L","t":1.2,"lo":0.5},{"p":20,"k":"L","t":3,"lo":0.45},{"p":20,"k":"L","t":5,"lo":0.4},{"p":20,"k":"L","t":7,"lo":0.33},{"p":20,"k":"L","t":9,"lo":0.25},{"p":20,"k":"L","t":11,"lo":0.15},{"p":20,"k":"L","t":13,"lo":0.09},{"p":20,"k":"L","t":15,"lo":0.08},{"p":20,"k":"L","t":17,"lo":0.1},{"p":20,"k":"L","t":19,"lo":0.14},{"p":20,"k":"L","t":21,"lo":0.2},{"p":20,"k":"L","t":23,"lo":0.3},{"p":20,"k":"L","t":24,"lo":0.34},
{"p":20,"k":"d","g":1,"t":0,"lo":0,"hi":1},{"p":20,"k":"d","g":1,"t":24,"lo":0,"hi":1},
{"p":20,"k":"s","g":2,"t":1,"lo":0.45,"hi":0.98},{"p":20,"k":"s","g":2,"t":5,"lo":0.45,"hi":0.98}
]},
"facet":{"field":"p","type":"ordinal","header":{"title":null,"labelExpr":"['Cluster1(n=80,182)','Cluster2(n=46,037)','Cluster3(n=61,919)','Cluster4(n=78,426)','Cluster5(n=47,974)','Cluster6(n=72,073)','Cluster7(n=60,909)','Cluster8(n=78,354)','Cluster9(n=94,883)','Cluster10(n=47,883)','Cluster11(n=216,119)','Cluster12(n=38,730)','Cluster13(n=51,475)','Cluster14(n=55,998)','Cluster15(n=37,576)','Cluster16(n=53,749)','Cluster17(n=38,214)','Cluster18(n=41,620)','Cluster19(n=22,172)','Cluster20(n=25,539)'][datum.value-1]","labelFontSize":15,"labelFontWeight":"normal","labelFont":"Liberation Sans","labelColor":"#000","labelPadding":-2}},
"columns":2,
"spacing":{"row":13.3,"column":-10},
"resolve":{"axis":{"x":"independent","y":"independent"}},
"spec":{
"width":259,"height":94,
"encoding":{
"x":{"field":"t","type":"quantitative","scale":{"domain":[0,24],"nice":false,"zero":false},"axis":{"title":"Time","values":[0,1,2,3,4,5,6,7,8,9,10,11,12,13,14,15,16,17,18,19,20,21,22,23,24],"labelExpr":"datum.value==24?'23:59':(datum.value%6==0?(datum.value<10?'0':'')+datum.value+':00':'')","labelOverlap":false,"labelFlush":true,"labelFontSize":8,"labelFont":"Liberation Sans Narrow, Liberation Sans","labelPadding":2,"titleFontSize":14,"titlePadding":3}},
"y":{"field":"lo","type":"quantitative","stack":null,"scale":{"domain":[0,1],"nice":false},"axis":{"title":["Distance ratio","from the home"],"values":[0,0.1,0.2,0.3,0.4,0.5,0.6,0.7,0.8,0.9,1],"labelExpr":"round(datum.value*10)%2==0?format(datum.value,'.1f'):''","labelOverlap":false,"labelFontSize":5,"labelPadding":1,"titleFontSize":12.5,"titleLineHeight":9,"titlePadding":0}}
},
"layer":[
{"transform":[{"filter":"datum.k=='d'"}],"mark":{"type":"area","color":"#1e90ff","opacity":1},"encoding":{"y2":{"field":"hi"},"detail":{"field":"g","type":"nominal"}}},
{"transform":[{"filter":"datum.k=='m'"}],"mark":{"type":"area","color":"#72b5f7","opacity":1},"encoding":{"y2":{"field":"hi"},"detail":{"field":"g","type":"nominal"}}},
{"transform":[{"filter":"datum.k=='s'"}],"mark":{"type":"area","color":"#b3d6fa","opacity":1},"encoding":{"y2":{"field":"hi"},"detail":{"field":"g","type":"nominal"}}},
{"transform":[{"filter":"datum.k=='w'"}],"mark":{"type":"area","color":"#eef6fe","opacity":1},"encoding":{"y2":{"field":"hi"},"detail":{"field":"g","type":"nominal"}}},
{"transform":[{"filter":"datum.k=='L'"}],"mark":{"type":"line","color":"#000","strokeDash":[4,2.5],"strokeWidth":1.5},"encoding":{}}
]
},
"config":{
"font":"Liberation Sans",
"view":{"fill":"#d9eafb","stroke":"#bfcfdf","strokeWidth":1},
"axis":{"domain":false,"ticks":false,"grid":true,"gridColor":"#b5c6d6","gridOpacity":0.6,"gridWidth":0.6,"labelColor":"#333","titleColor":"#222","titleFontWeight":"normal"}
}
}
